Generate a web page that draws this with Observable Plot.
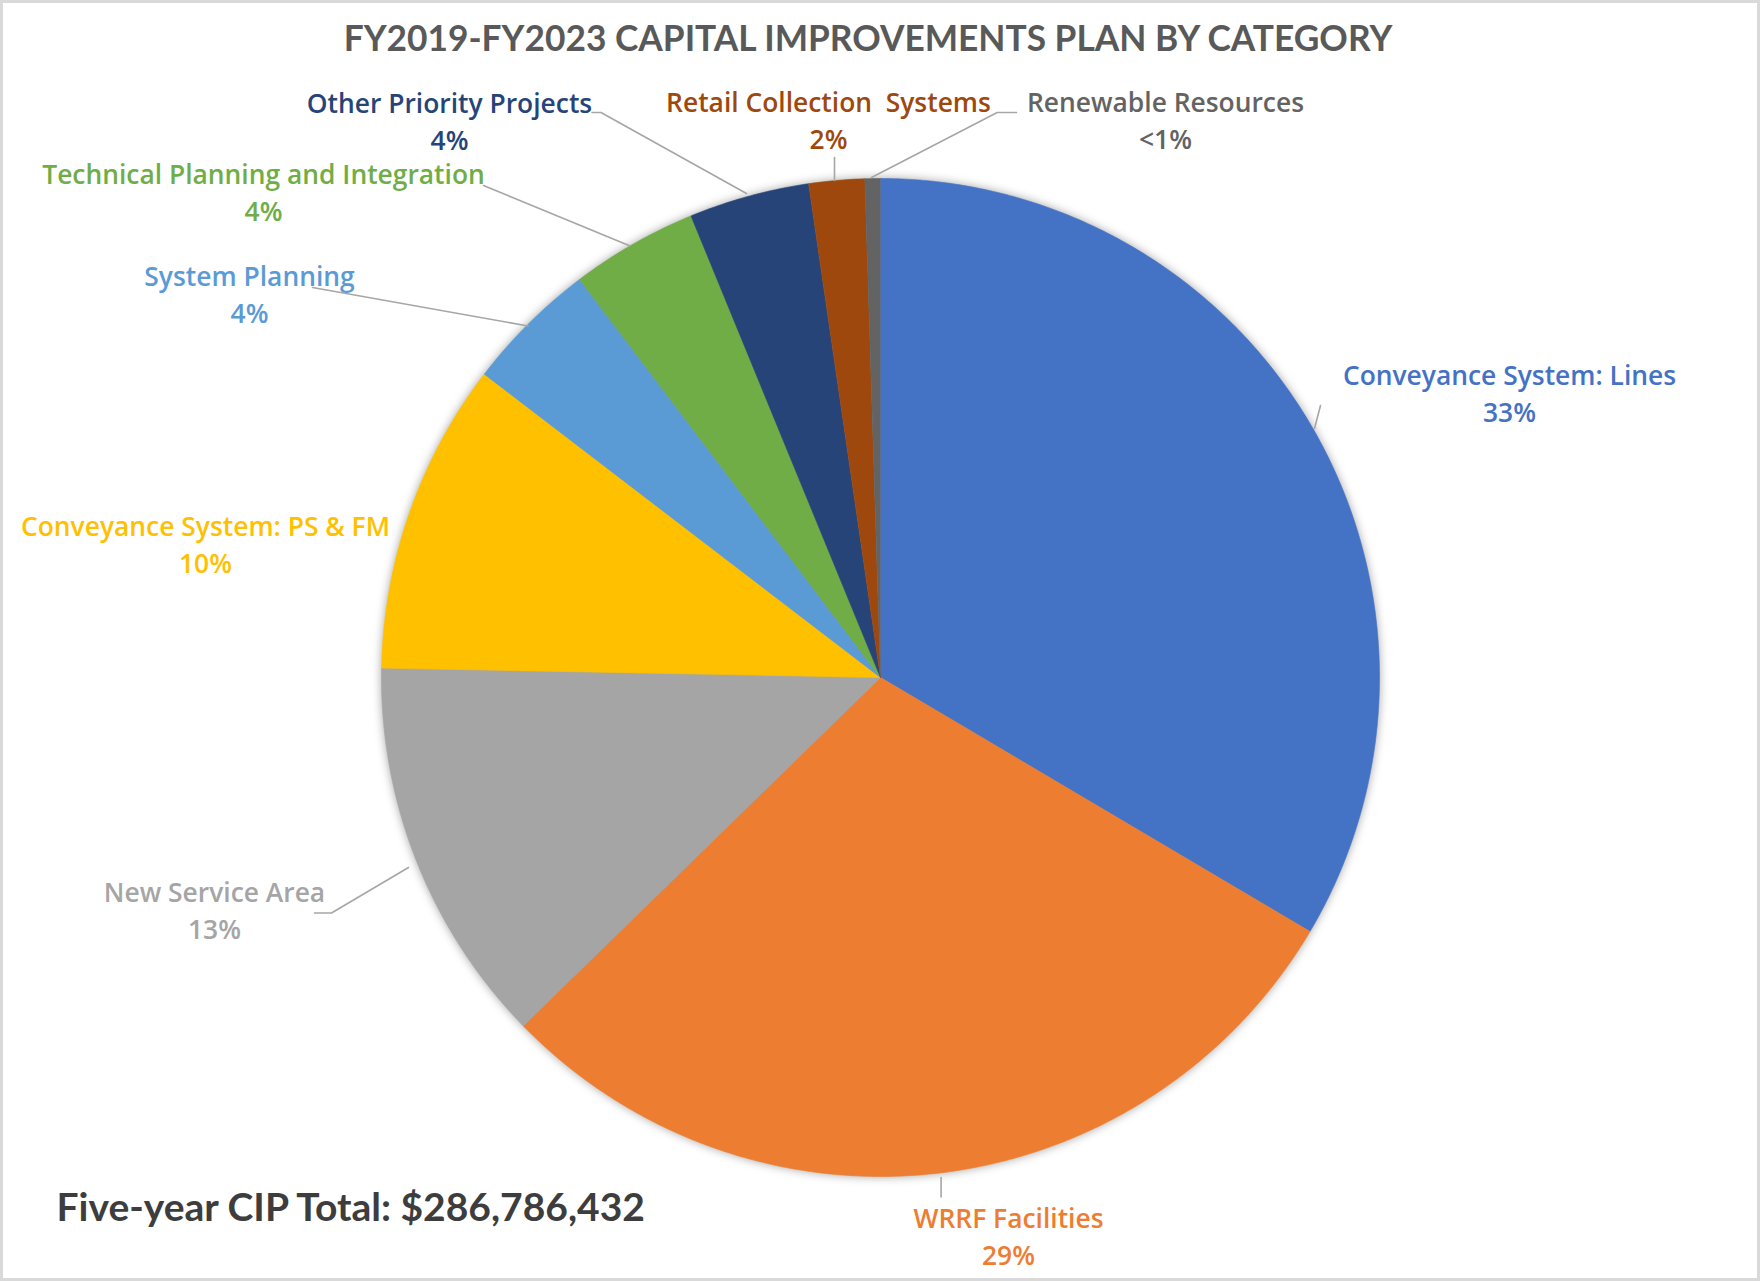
<!DOCTYPE html>
<html><head><meta charset="utf-8">
<script src="https://cdn.jsdelivr.net/npm/d3@7"></script>
<script src="https://cdn.jsdelivr.net/npm/@observablehq/plot@0.6"></script>
<style>
html,body{margin:0;padding:0;background:#fff;}
#wrap{position:relative;width:1760px;height:1281px;overflow:hidden;background:#fff;font-family:Lato,sans-serif;}
#border{position:absolute;left:0;top:0;right:0;bottom:0;border:3px solid #d9d9d9;pointer-events:none;box-sizing:border-box;z-index:2}
#title{height:70px;display:flex;align-items:center;justify-content:center;font-weight:bold;font-size:35.3px;color:#595959;padding-right:24px;padding-top:4px;box-sizing:border-box}
#chart svg{display:block}
</style></head>
<body><div id="wrap"><div id="border"></div><div id="title">FY2019-FY2023 CAPITAL IMPROVEMENTS PLAN BY CATEGORY</div><div id="chart"></div></div>
<script>
// ---- data ----
const categories = [
  "Conveyance System: Lines",
  "WRRF Facilities",
  "New Service Area",
  "Conveyance System: PS & FM",
  "System Planning",
  "Technical Planning and Integration",
  "Other Priority Projects",
  "Retail Collection  Systems",
  "Renewable Resources"
];
const shares = [33.5, 29.2, 12.6, 10.1, 4.3, 4.1, 3.9, 1.8, 0.5];
const pctLabels = ["33%", "29%", "13%", "10%", "4%", "4%", "4%", "2%", "<1%"];
const sliceColors = ["#4472C4", "#ED7D31", "#A5A5A5", "#FFC000", "#5B9BD5", "#70AD47", "#264478", "#9E480E", "#636363"];
const totalLabel = "Five-year CIP Total: $286,786,432";

// ---- layout (annotation placement, relative to pie centre, y up) ----
const R = 499;
const labelOffsets = [[629, 286], [128, -557], [-666, -231], [-675, 135], [-631, 385], [-617, 487], [-431, 558], [-52, 559], [285, 559]];
const leaderPaths = [
  [[440, 272], [434, 249]],
  [[60.6, -500], [60.6, -519.5]],
  [[-566, -235.5], [-549, -235.5], [-472, -190]],
  [],
  [[-568, 390], [-352.5, 351.5]],
  [[-397, 492], [-251.5, 432]],
  [[-288.5, 565], [-279.5, 565], [-134, 484]],
  [[-46, 520], [-46, 497]],
  [[136, 565], [116.7, 565], [-9, 500]]
];

const data = categories.map((c, i) => ({cat: c, value: shares[i]}));
const arcs = d3.pie().sort(null).value(d => d.value)(data);
const piePts = [];
arcs.forEach(a => {
  const n = Math.max(2, Math.ceil((a.endAngle - a.startAngle) / (Math.PI / 360)));
  piePts.push({cat: a.data.cat, x: 0, y: 0});
  for (let i = 0; i <= n; i++) {
    const t = a.startAngle + (a.endAngle - a.startAngle) * i / n;
    piePts.push({cat: a.data.cat, x: R * Math.sin(t), y: R * Math.cos(t)});
  }
});
const labels = categories.map((c, i) => ({cat: c, text: c + "\n" + pctLabels[i], x: labelOffsets[i][0], y: labelOffsets[i][1]}));
const leaders = [];
leaderPaths.forEach((p, i) => p.forEach(([x, y]) => leaders.push({id: i, x, y})));

const W = 1760, H = 1211;
const chart = Plot.plot({
  width: W, height: H, margin: 0,
  x: {domain: [-880, 880], axis: null},
  y: {domain: [-604, 607], axis: null},
  color: {domain: categories, range: sliceColors},
  style: {fontFamily: "Lato, sans-serif", background: "transparent"},
  marks: [
    Plot.line(piePts, {x: "x", y: "y", z: "cat", fill: "cat", stroke: "cat", strokeWidth: 0.6, curve: "linear"}),
    Plot.line(leaders, {x: "x", y: "y", z: "id", stroke: "#a6a6a6", strokeWidth: 1.6}),
    Plot.text(labels, {x: "x", y: "y", text: "text", fill: "cat", fontSize: 26.4, fontFamily: "'Open Sans', sans-serif", fontWeight: 600, lineHeight: 1.4, textAnchor: "middle"}),
    Plot.text([totalLabel], {x: () => -824, y: () => -531, text: d => d, textAnchor: "start", fontSize: 39, fontWeight: "bold", fill: "#3d3d3d"})
  ]
});
document.getElementById("chart").appendChild(chart);
const pieG = chart.querySelector('g[aria-label="line"]');
if (pieG) pieG.style.filter = "drop-shadow(0px 0px 5px rgba(0,0,0,0.35))";
</script>
</body></html>
